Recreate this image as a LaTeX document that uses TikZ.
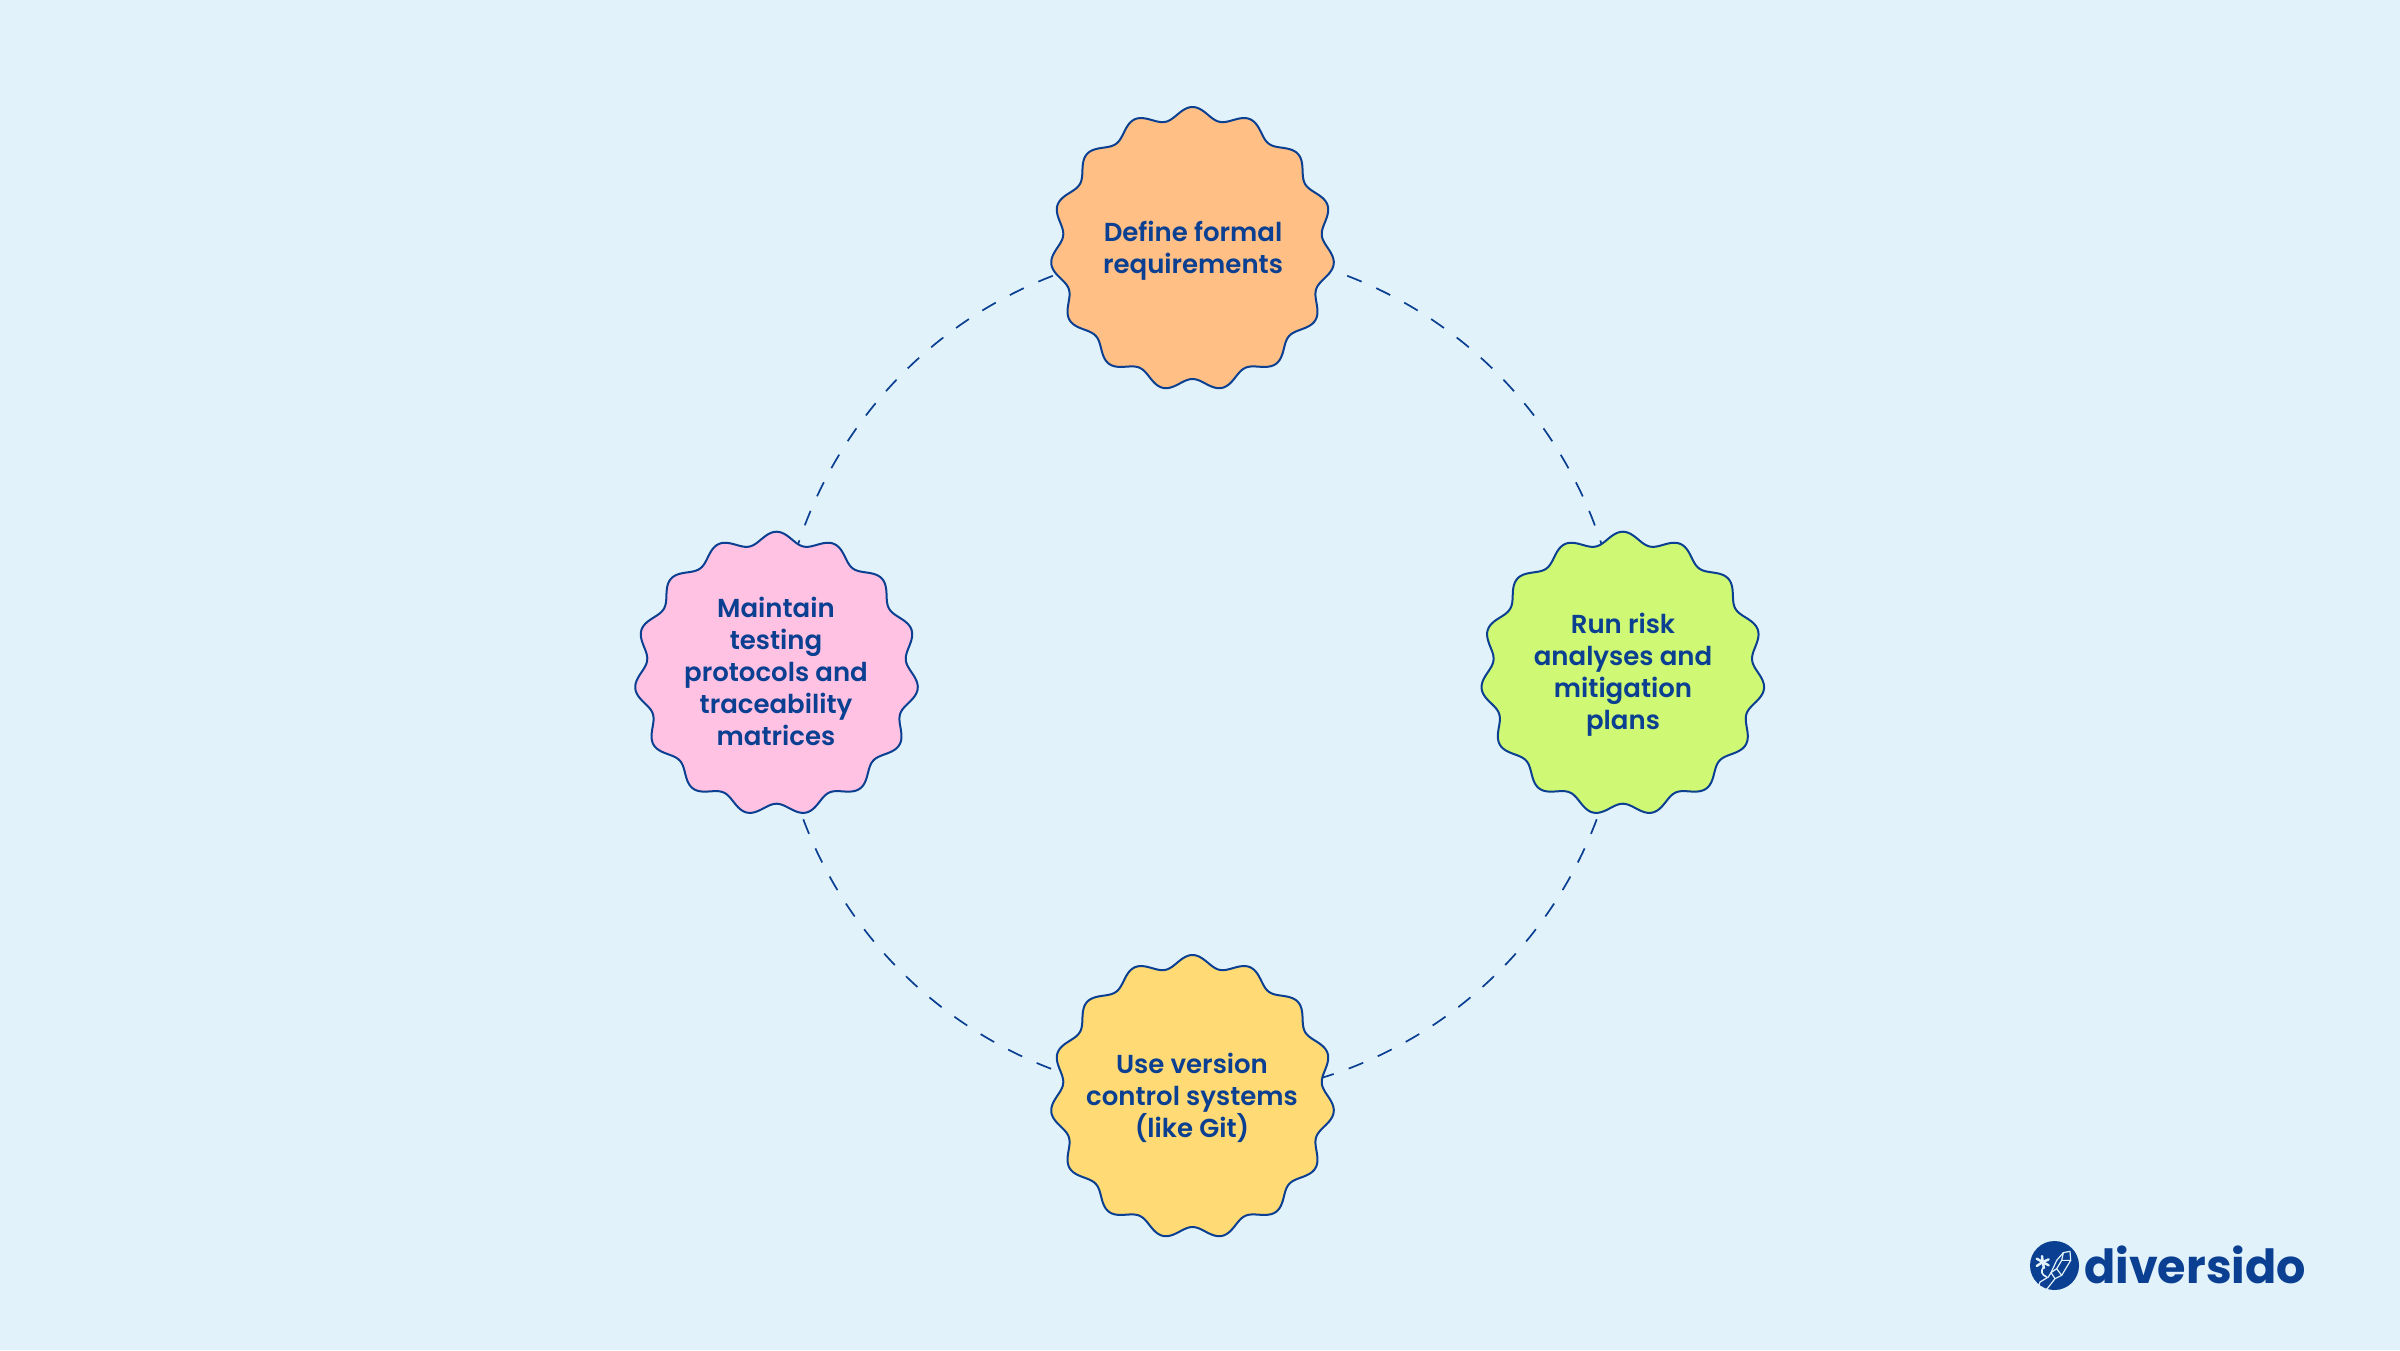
\documentclass[tikz,border=0pt]{standalone}
\usepackage{fontspec}
\newfontfamily\lab{Poppins SemiBold}
\newfontfamily\logofont{Poppins}[BoldFont=* Bold]
\definecolor{bgc}{HTML}{E2F2FA}
\definecolor{navy}{HTML}{0A3F91}
\definecolor{cor}{HTML}{FFBF85}
\definecolor{cgr}{HTML}{CFF874}
\definecolor{cpk}{HTML}{FFC2E2}
\definecolor{cye}{HTML}{FFDA75}
\pgfdeclarelayer{back}
\pgfsetlayers{back,main}
\tikzset{
  lbl/.style={text=navy,align=center,font=\lab\fontsize{26}{32}\selectfont,inner sep=0pt},
  blobline/.style={draw=navy,line width=2pt,line join=round},
  link/.style={draw=navy,line width=1.7pt,dash pattern=on 15.6pt off 15.93pt},
  logoline/.style={draw=bgc,line width=1.2pt,line join=round,line cap=round}
}
\newcommand\blob[3]{%
  \path[blobline,fill=#3] plot[domain=0:360,samples=361,variable=\t]
   ({#1+(136+6*cos(15*(\t-90)))*cos(\t)},{#2-(136+6*cos(15*(\t-90)))*sin(\t)}) -- cycle;}
\newcommand\ls{\rule[-7pt]{0pt}{26pt}}
\newcommand\lf{\rule[-7pt]{0pt}{30pt}}
\begin{document}
\begin{tikzpicture}[x=1pt,y=-1pt]
\useasboundingbox (0,0) rectangle (2400,1350);
\node[lbl] (top) at (1193,249) {\lf Define formal\\\ls requirements};
\node[lbl] (right) at (1623,673.7) {\lf Run risk\\\ls analyses and\\\ls mitigation\\\ls plans};
\node[lbl] (bottom) at (1192,1097) {\lf Use version\\\ls control systems\\\ls (like Git)};
\node[lbl] (left) at (776,673.7) {\lf Maintain\\\ls testing\\\ls protocols and\\\ls traceability\\\ls matrices};
\coordinate (a1) at (1347.2,275.8);
\coordinate (a2) at (1596.7,819.3);
\coordinate (a3) at (803.3,819.3);
\coordinate (a4) at (1052.8,275.8);
\begin{pgfonlayer}{back}
\fill[bgc] (0,0) rectangle (2400,1350);
\draw[link] (a1) .. controls (1512,339.1) and (1620,495.5) .. (right.center);
\draw[link] (a2) .. controls (1533.8,987.6) and (1372.6,1097.7) .. (bottom.center);
\draw[link] (a3) .. controls (864.3,982.7) and (1018.6,1091.8) .. (bottom.center);
\draw[link] (a4) .. controls (888,339.1) and (780,495.5) .. (left.center);
\blob{1192.5}{249}{cor}
\blob{1622.8}{673.7}{cgr}
\blob{1192.5}{1097}{cye}
\blob{776.5}{673.7}{cpk}
\end{pgfonlayer}
% logo
\fill[navy] (2054.5,1265.5) circle[radius=24.5];
\node[text=navy,inner sep=0pt,anchor=base west,font=\logofont\bfseries\fontsize{47}{47}\selectfont] (logo) at (2084,1283) {\scalebox{0.98}[1]{diversido}};
\begin{scope}[shift={(2020,1232)},x=0.3333pt,y=-0.3333pt]
\draw[logoline] (130,62) -- (150,58) -- (152,85) -- (125,130) -- (105,140) -- (93,122) -- (110,85) -- cycle;
\draw[logoline] (130,62) -- (125,85) -- (152,85) (125,85) -- (110,110) -- (125,130) (110,110) -- (93,122);
\draw[logoline] (105,140) -- (80,172) (93,122) -- (85,135) -- (60,150) -- (55,165);
\draw[draw=bgc,line width=1.6pt,line cap=round] (70,105) .. controls (62,118) and (64,128) .. (80,135);
\draw[draw=bgc,line width=2.4pt,line cap=round] (68,90) -- (66,72) (68,90) -- (50,80) (68,90) -- (50,102) (68,90) -- (72,108) (68,90) -- (86,100) (68,90) -- (86,82);
\end{scope}
\end{tikzpicture}
\end{document}
